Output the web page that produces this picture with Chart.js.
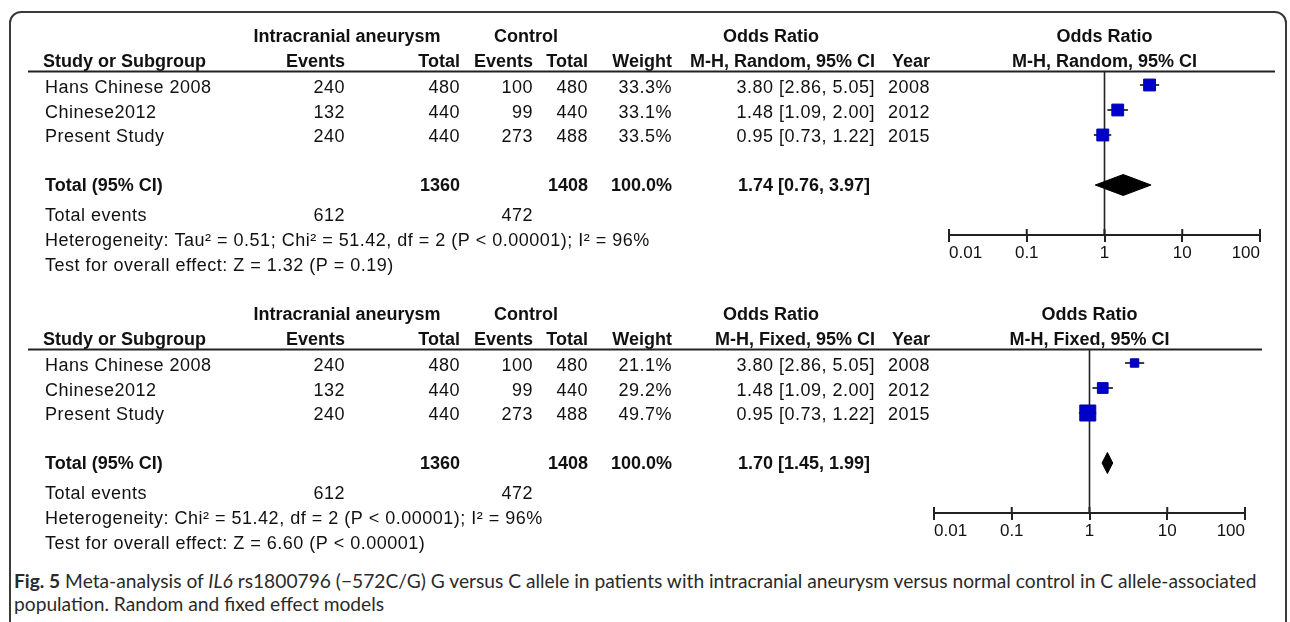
<!DOCTYPE html>
<html><head><meta charset="utf-8">
<script src="https://cdn.jsdelivr.net/npm/chart.js@4.4.1/dist/chart.umd.min.js"></script>
<style>
html,body{margin:0;padding:0;background:#fff;width:1290px;height:622px;overflow:hidden;}
#box{position:absolute;left:9px;top:11px;width:1278px;height:700px;border:2px solid #3a3a3a;border-radius:12px;box-sizing:border-box;}
canvas{position:absolute;left:0;}
#c1{top:0}
#c2{top:278px}
#cap{position:absolute;left:14px;top:569px;font-family:Lato,"Open Sans",sans-serif;font-size:19.2px;line-height:23px;color:#2a2a2a;white-space:nowrap}
</style></head><body>
<div id="box"></div>
<canvas id="c1" width="1290" height="278"></canvas>
<canvas id="c2" width="1290" height="278"></canvas>
<div id="cap"><b>Fig. 5</b> Meta-analysis of <i>IL6</i> rs1800796 (−572C/G) G versus C allele in patients with intracranial aneurysm versus normal control in C allele-associated<br>population. Random and fixed effect models</div>
<script>
// ---- data ----
const studies = ["Hans Chinese 2008", "Chinese2012", "Present Study"];
const iaEvents = [240, 132, 240];
const iaTotal = [480, 440, 440];
const ctrlEvents = [100, 99, 273];
const ctrlTotal = [480, 440, 488];
const years = [2008, 2012, 2015];
const orEst = [3.80, 1.48, 0.95];
const orLow = [2.86, 1.09, 0.73];
const orHigh = [5.05, 2.00, 1.22];
const weightRandom = [33.3, 33.1, 33.5];
const weightFixed = [21.1, 29.2, 49.7];
const totalRandom = [1.74, 0.76, 3.97];   // est, low, high
const totalFixed = [1.70, 1.45, 1.99];
const totalIA = [1360];
const totalCtrl = [1408];
const totalEvents = [612, 472];
const axisTicks = [0.01, 0.1, 1, 10, 100];
const panels = [
  {id: 1, model: "Random", weights: weightRandom, total: totalRandom,
   het: "Heterogeneity: Tau\u00b2 = 0.51; Chi\u00b2 = 51.42, df = 2 (P < 0.00001); I\u00b2 = 96%",
   test: "Test for overall effect: Z = 1.32 (P = 0.19)", padL: 949, padR: 30, lineEnd: 1275},
  {id: 2, model: "Fixed", weights: weightFixed, total: totalFixed,
   het: "Heterogeneity: Chi\u00b2 = 51.42, df = 2 (P < 0.00001); I\u00b2 = 96%",
   test: "Test for overall effect: Z = 6.60 (P < 0.00001)", padL: 934, padR: 45, lineEnd: 1262}
];

const Y_MIN = -0.52, Y_MAX = 6.0, TOTAL_ROW = 4, DIAM_H = 0.42;
const FONT = '"Liberation Sans", Arial, sans-serif';
const INK = '#111';

function fmt(a, b, c) { return a.toFixed(2) + ' [' + b.toFixed(2) + ', ' + c.toFixed(2) + ']'; }

function tablePlugin(p) {
  return {
    id: 'table' + p.id,
    afterDraw(chart) {
      const ctx = chart.ctx, ys = chart.scales.y, xs = chart.scales.x, ca = chart.chartArea;
      ctx.save();
      const txt = (s, x, v, align, bold, dy) => {
        ctx.font = (bold ? 'bold ' : '') + '18px ' + FONT;
        ctx.letterSpacing = bold ? '0px' : '0.5px';
        ctx.textAlign = align; ctx.textBaseline = 'middle';
        ctx.fillStyle = INK;
        ctx.fillText(s, x, ys.getPixelForValue(v) + (dy || 0));
      };
      const plotMid = (xs.left + xs.right) / 2;
      const H1 = -1.9, H2 = -0.9, R = 3.5;
      txt('Intracranial aneurysm', 347, H1, 'center', true);
      txt('Control', 526, H1, 'center', true);
      txt('Odds Ratio', 771, H1, 'center', true);
      txt('Odds Ratio', plotMid, H1, 'center', true);
      txt('Study or Subgroup', 43, H2, 'left', true);
      txt('Events', 345, H2, 'right', true);
      txt('Total', 460, H2, 'right', true);
      txt('Events', 533, H2, 'right', true);
      txt('Total', 588, H2, 'right', true);
      txt('Weight', 672, H2, 'right', true);
      txt('M-H, ' + p.model + ', 95% CI', 875, H2, 'right', true);
      txt('Year', 930, H2, 'right', true);
      txt('M-H, ' + p.model + ', 95% CI', plotMid, H2, 'center', true);
      studies.forEach((s, i) => {
        const dy = R - i * 0.8;
        txt(s, 45, i, 'left', false, dy);
        txt(String(iaEvents[i]), 345, i, 'right', false, dy);
        txt(String(iaTotal[i]), 460, i, 'right', false, dy);
        txt(String(ctrlEvents[i]), 533, i, 'right', false, dy);
        txt(String(ctrlTotal[i]), 588, i, 'right', false, dy);
        txt(p.weights[i].toFixed(1) + '%', 672, i, 'right', false, dy);
        txt(fmt(orEst[i], orLow[i], orHigh[i]), 875, i, 'right', false, dy);
        txt(String(years[i]), 930, i, 'right', false, dy);
      });
      txt('Total (95% CI)', 45, TOTAL_ROW, 'left', true, 1);
      txt(String(totalIA[0]), 460, TOTAL_ROW, 'right', true, 1);
      txt(String(totalCtrl[0]), 588, TOTAL_ROW, 'right', true, 1);
      txt('100.0%', 672, TOTAL_ROW, 'right', true, 1);
      txt(fmt(p.total[0], p.total[1], p.total[2]), 870, TOTAL_ROW, 'right', true, 1);
      txt('Total events', 45, 5.26, 'left', false);
      txt(String(totalEvents[0]), 345, 5.26, 'right', false);
      txt(String(totalEvents[1]), 533, 5.26, 'right', false);
      txt(p.het, 45, 6.26, 'left', false);
      txt(p.test, 45, 7.26, 'left', false);
      // header rule
      ctx.strokeStyle = '#222'; ctx.lineWidth = 2;
      ctx.beginPath(); ctx.moveTo(28, ca.top - 0.5); ctx.lineTo(p.lineEnd, ca.top - 0.5); ctx.stroke();
      // upper halves of axis ticks
      ctx.beginPath();
      axisTicks.forEach(v => { const x = xs.getPixelForValue(v); ctx.moveTo(x, ca.bottom - 6); ctx.lineTo(x, ca.bottom); });
      ctx.stroke();
      ctx.restore();
    }
  };
}

function makeChart(canvasId, p) {
  const maxW = Math.max(...weightFixed);
  const radius = p.weights.map(w => 16 * Math.pow(w / maxW, 0.75) / Math.SQRT2);
  const datasets = [
    {data: orEst.map((x, i) => ({x, y: i})), pointStyle: 'rect', pointRadius: radius,
     backgroundColor: '#0000c8', borderColor: '#0000b0', borderWidth: 1, showLine: false},
    {data: [{x: p.total[1], y: TOTAL_ROW}, {x: p.total[0], y: TOTAL_ROW - DIAM_H},
            {x: p.total[2], y: TOTAL_ROW}, {x: p.total[0], y: TOTAL_ROW + DIAM_H},
            {x: p.total[1], y: TOTAL_ROW}],
     showLine: true, fill: 'shape', backgroundColor: '#000', borderColor: '#000', borderWidth: 1,
     pointRadius: 0, tension: 0},
    ...studies.map((s, i) => ({data: [{x: orLow[i], y: i}, {x: orHigh[i], y: i}], showLine: true,
      borderColor: '#111', borderWidth: 1.6, pointRadius: 0, fill: false})),
    {data: [{x: 1, y: Y_MIN}, {x: 1, y: Y_MAX}], showLine: true, borderColor: '#222', borderWidth: 1.6,
     pointRadius: 0, fill: false}
  ];
  return new Chart(document.getElementById(canvasId), {
    type: 'scatter',
    data: {datasets},
    options: {
      responsive: false, animation: false, devicePixelRatio: 1,
      layout: {padding: {left: p.padL, right: p.padR, top: 72, bottom: 0}},
      plugins: {legend: {display: false}, tooltip: {enabled: false}},
      scales: {
        x: {type: 'logarithmic', min: 0.01, max: 100,
            afterBuildTicks: s => { s.ticks = axisTicks.map(v => ({value: v})); },
            afterFit: s => { s.height = 43; },
            ticks: {callback: v => String(v), align: 'inner', padding: 1, color: INK,
                    font: {family: FONT, size: 17}, maxRotation: 0, autoSkip: false},
            grid: {drawOnChartArea: false, drawTicks: true, tickLength: 7, color: '#222', lineWidth: 2},
            border: {display: true, color: '#222', width: 2}},
        y: {type: 'linear', reverse: true, min: Y_MIN, max: Y_MAX, display: false}
      }
    },
    plugins: [tablePlugin(p)]
  });
}
makeChart('c1', panels[0]);
makeChart('c2', panels[1]);
</script>
</body></html>
